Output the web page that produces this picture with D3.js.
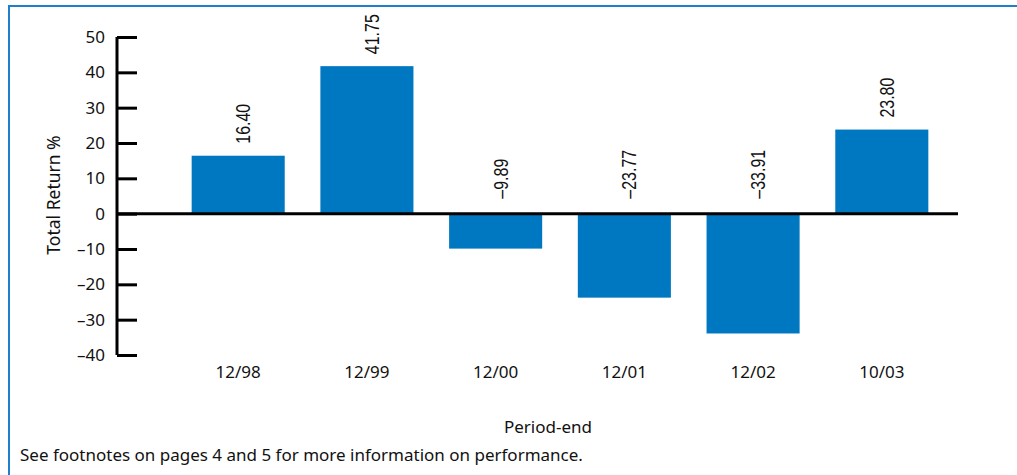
<!DOCTYPE html>
<meta charset="utf-8">
<head>
<style>
  body { margin: 0; background: #fff; }
  svg { display: block; }
  .tick text, .lbl { font-family: "Noto Sans", "Open Sans", sans-serif; fill: #111; }
  .val { font-family: "Liberation Sans", Arial, sans-serif; fill: #111; }
</style>
</head>
<body>
<div id="chart"></div>
<script src="https://cdn.jsdelivr.net/npm/d3@7"></script>
<script>
// data
var periods = ["12/98", "12/99", "12/00", "12/01", "12/02", "10/03"];
var returns = [16.40, 41.75, -9.89, -23.77, -33.91, 23.80];
var yTicks = [-40, -30, -20, -10, 0, 10, 20, 30, 40, 50];

var W = 1017, H = 475;
var svg = d3.select("#chart").append("svg")
  .attr("width", W).attr("height", H);

// frame (top + left blue rule)
svg.append("path")
  .attr("d", "M9,475 V6 H1017")
  .attr("fill", "none")
  .attr("stroke", "#1f7fca")
  .attr("stroke-width", 2);

var y = d3.scaleLinear().domain([-40, 50]).range([355, 37]);
var x = d3.scaleBand().domain(periods).range([156, 964]).padding(0.277);
var axisX = 117;

function fmt(v) {
  return (v < 0 ? "\u2013" : "") + Math.abs(v).toFixed(2);
}

// bars
svg.selectAll(".bar")
  .data(returns)
  .enter().append("rect")
    .attr("class", "bar")
    .attr("x", function(d, i) { return x(periods[i]); })
    .attr("width", x.bandwidth())
    .attr("y", function(d) { return y(Math.max(0, d)); })
    .attr("height", function(d) { return Math.abs(y(d) - y(0)); })
    .attr("fill", "#0078c1");

// y axis
var yAxis = d3.axisRight(y)
  .tickValues(yTicks)
  .tickSize(20)
  .tickFormat(function(d) { return d < 0 ? "\u2013" + Math.abs(d) : d; });

var gy = svg.append("g")
  .attr("transform", "translate(" + axisX + ",0)")
  .call(yAxis);
gy.select(".domain").attr("stroke", "#000").attr("stroke-width", 3)
  .attr("d", "M0," + y(50) + "V" + y(-40));
gy.selectAll(".tick line").attr("stroke", "#000").attr("stroke-width", 3);
gy.selectAll(".tick text")
  .attr("x", -12)
  .attr("text-anchor", "end")
  .attr("font-size", 17);

// zero line
svg.append("line")
  .attr("x1", axisX).attr("x2", 958)
  .attr("y1", y(0)).attr("y2", y(0))
  .attr("stroke", "#000").attr("stroke-width", 3);

// value labels (condensed, rotated)
svg.selectAll(".val")
  .data(returns)
  .enter().append("text")
    .attr("class", "val")
    .attr("font-size", 21)
    .attr("text-anchor", "start")
    .attr("transform", function(d, i) {
      var cx = x(periods[i]) + x.bandwidth() / 2 + 12;
      var cy = d >= 0 ? y(d) - 12 : y(0) - 15;
      return "translate(" + cx + "," + cy + ") rotate(-90) scale(0.76,1)";
    })
    .text(fmt);

// category labels
svg.selectAll(".cat")
  .data(periods)
  .enter().append("text")
    .attr("class", "lbl")
    .attr("font-size", 17)
    .attr("text-anchor", "middle")
    .attr("x", function(d) { return x(d) + x.bandwidth() / 2; })
    .attr("y", 378)
    .text(function(d) { return d; });

// axis titles
svg.append("text")
  .attr("class", "lbl")
  .attr("font-size", 17.5)
  .attr("text-anchor", "middle")
  .attr("transform", "translate(60,195) rotate(-90)")
  .text("Total Return %");

svg.append("text")
  .attr("class", "lbl")
  .attr("font-size", 17)
  .attr("text-anchor", "middle")
  .attr("x", 548).attr("y", 433)
  .text("Period-end");

svg.append("text")
  .attr("class", "lbl")
  .attr("font-size", 17)
  .attr("x", 20).attr("y", 461)
  .text("See footnotes on pages 4 and 5 for more information on performance.");
</script>
</body>
